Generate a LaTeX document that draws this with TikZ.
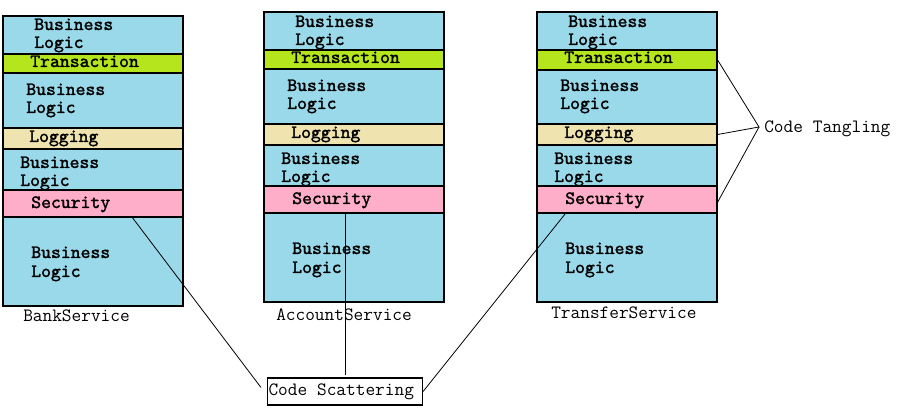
\documentclass[tikz,border=0pt]{standalone}
\usepackage{fontspec}
\newfontfamily\lmboldmono{lmmono10-regular.otf}[FakeBold=1.6]
\usetikzlibrary{fit}
\definecolor{svcblue}{RGB}{153,217,234}
\definecolor{trgreen}{RGB}{181,230,29}
\definecolor{lgbeige}{RGB}{239,228,176}
\definecolor{scpink}{RGB}{255,174,201}
\tikzset{
  svcbox/.style={draw=black, line width=0.8pt, fill=svcblue, inner sep=0pt},
  band/.style={draw=black, line width=0.9pt, inner sep=0pt},
  lbl/.style={anchor=base west, inner sep=0pt, font=\lmboldmono\fontsize{14.1}{15}\selectfont},
  captext/.style={anchor=base west, inner sep=0pt, font=\ttfamily\fontsize{14.1}{15}\selectfont},
  conn/.style={draw=black, line width=0.6pt}
}
\newcommand{\msp}{\hspace{0.525em}}
\begin{document}
\begin{tikzpicture}[x=0.75pt,y=-0.75pt]
\useasboundingbox (0,0) rectangle (900,409);
% ---------- BankService ----------
\node[svcbox, fit={(3,16)(183,306)}] (box1) {};
\node[band, fill=trgreen, fit={(3,54)(183,73)}] (tr1) {};
\node[band, fill=lgbeige, fit={(3,128)(183,149)}] (lg1) {};
\node[band, fill=scpink, fit={(3,190)(183,217)}] (sc1) {};
\node[lbl] (b1a) at (34,30) {Business};
\node[lbl] (l1a) at (34,48) {Logic};
\node[lbl] (t1) at (30,67) {Transaction};
\node[lbl] (b1b) at (26,95) {Business};
\node[lbl] (l1b) at (26,113) {Logic};
\node[lbl] (g1) at (29,142) {Logging};
\node[lbl] (b1c) at (20,168) {Business};
\node[lbl] (l1c) at (20,186) {Logic};
\node[lbl] (s1) at (31,208) {Security};
\node[lbl] (b1d) at (31,258) {Business};
\node[lbl] (l1d) at (31,277) {Logic};
\node[captext] (n1) at (23,322) {BankService};
% ---------- AccountService ----------
\node[svcbox, fit={(264,12)(444,302)}] (box2) {};
\node[band, fill=trgreen, fit={(264,50)(444,69)}] (tr2) {};
\node[band, fill=lgbeige, fit={(264,124)(444,145)}] (lg2) {};
\node[band, fill=scpink, fit={(264,186)(444,213)}] (sc2) {};
\node[lbl] (b2a) at (295,27) {Business};
\node[lbl] (l2a) at (295,45) {Logic};
\node[lbl] (t2) at (291,63) {Transaction};
\node[lbl] (b2b) at (287,91) {Business};
\node[lbl] (l2b) at (287,109) {Logic};
\node[lbl] (g2) at (291,138) {Logging};
\node[lbl] (b2c) at (281,164) {Business};
\node[lbl] (l2c) at (281,182) {Logic};
\node[lbl] (s2) at (292,204) {Security};
\node[lbl] (b2d) at (292,254) {Business};
\node[lbl] (l2d) at (292,273) {Logic};
\node[captext] (n2) at (276,321) {AccountService};
% ---------- TransferService ----------
\node[svcbox, fit={(537,12)(717,302)}] (box3) {};
\node[band, fill=trgreen, fit={(537,50)(717,70)}] (tr3) {};
\node[band, fill=lgbeige, fit={(537,124)(717,145)}] (lg3) {};
\node[band, fill=scpink, fit={(537,186)(717,213)}] (sc3) {};
\node[lbl] (b3a) at (568,27) {Business};
\node[lbl] (l3a) at (568,45) {Logic};
\node[lbl] (t3) at (564,63) {Transaction};
\node[lbl] (b3b) at (560,91) {Business};
\node[lbl] (l3b) at (560,109) {Logic};
\node[lbl] (g3) at (564,138) {Logging};
\node[lbl] (b3c) at (554,164) {Business};
\node[lbl] (l3c) at (554,182) {Logic};
\node[lbl] (s3) at (565,204) {Security};
\node[lbl] (b3d) at (565,254) {Business};
\node[lbl] (l3d) at (565,273) {Logic};
\node[captext] (n3) at (551,319) {TransferService};
% ---------- Code Tangling ----------
\node[captext] (ct) at (764,133) {Code\msp Tangling};
\coordinate (tang) at (759,127);
\draw[conn] (tr3.east) -- (tang) -- (lg3.east);
\draw[conn] (tang) -- ([yshift=-2pt]sc3.east);
% ---------- Code Scattering ----------
\node[draw=black, line width=0.8pt, fill=white, anchor=west, inner xsep=0.75pt, inner ysep=0pt,
      text width=114.75pt, align=left, minimum height=20.25pt,
      font=\ttfamily\fontsize{14.1}{15}\selectfont] (cs) at (267,391.5) {Code\msp Scattering};
\draw[conn] (sc2.south -| cs.north) -- ([yshift=1.5pt]cs.north);
\draw[conn] ([xshift=21.75pt]sc3.south west) -- (cs.east);
\draw[conn] ([xshift=97.5pt]sc1.south west) -- ([shift={(-6,-4)}]cs.west);
\end{tikzpicture}
\end{document}
